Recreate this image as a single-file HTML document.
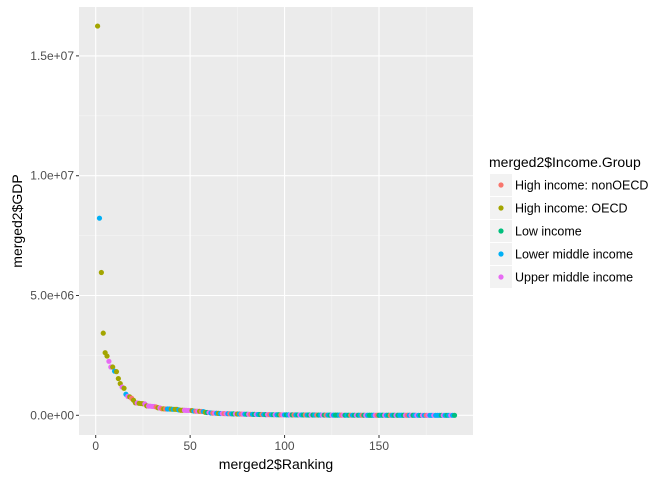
<!DOCTYPE html>
<html><head><meta charset="utf-8"><style>
body{margin:0;background:#fff;}
svg text{font-family:"Liberation Sans",sans-serif;}
</style></head><body>
<svg id="c" width="672" height="480" xmlns="http://www.w3.org/2000/svg"></svg>
<script>
const ranking = [];
const gdp = [16244600,8227103,5959718,3428131,2612878,2471784,2252664,2014775,2014670,1841710,1821424,1532408,1322965,1178126,1129598,878043,789257,770555,711050,631173,523806,514060,499667,489795,483262,475502,394708,384313,381286,369606,365966,348595,314887,305033,274701,269869,263259,262832,262597,258217,250182,249099,247546,225143,212274,210771,210280,205789,203790,203521,196446,176309,171476,169396,167347,160913,155820,124600,116355,114147,95982,
91149,87268,84040,80000,76000,73000,71000,68000,66000,64000,61000,59000,57000,55000,53000,51000,49000,47000,45000,44000,42000,40000,38000,36000,35000,33000,32000,30000,29000,28000,27000,26000,25000,24000,23000,22000,21000,20000,19500,19000,18500,18000,17500,17000,16500,16000,15500,15000,14500,14000,13500,13000,12500,12000,11500,11000,10500,10000,9600,9200,8800,8400,8000,7600,7200,6900,6600,6300,6000,5700,5400,5100,4900,4700,4500,4300,4100,3900,3700,3500,3300,3100,2900,2700,2500,2300,2200,2100,2000,1900,1800,1700,1600,1500,1400,1300,1200,1100,1000,950,900,850,800,750,700,650,600,550,500,460,420,380,340,300,270,240,210,180,150,120,100,80,60,40,30,25,20,15,10];
const group = [1,3,1,1,1,1,4,4,1,3,1,1,1,4,1,3,4,1,0,1,1,4,1,1,1,4,1,4,4,4,4,0,1,4,0,1,0,3,3,1,3,1,1,3,1,1,4,4,4,4,1,3,0,4,1,0,3,1,2,4,3,
0,4,3,1,3,4,0,4,3,0,3,2,4,1,3,0,4,3,2,4,0,3,2,4,3,2,0,3,2,4,0,3,2,4,3,2,0,4,3,2,3,4,2,0,3,2,4,3,2,0,3,2,4,2,3,0,2,3,4,2,0,3,2,4,3,2,2,3,0,4,2,3,2,0,3,2,4,2,3,0,2,4,3,2,2,3,4,0,2,3,2,4,3,2,0,3,2,4,2,3,3,2,4,0,3,4,2,3,4,3,2,4,3,0,4,3,3,4,3,3,3,2,4,3,2,3,4,3,2,3];
const N = Math.min(gdp.length, group.length);
for (let i = 0; i < N; i++) ranking.push(i + 1);
const groupNames = ["High income: nonOECD","High income: OECD","Low income","Lower middle income","Upper middle income"];
const groupColors = ["#F8766D","#A3A500","#00BF7D","#00B0F6","#E76BF3"];
const xTicks = [0,50,100,150];
const yTicks = [0,5e6,1e7,1.5e7];
const yTickLabels = ["0.0e+00","5.0e+06","1.0e+07","1.5e+07"];

const NS = "http://www.w3.org/2000/svg";
const svg = document.getElementById('c');
const P = {l:79, t:7, r:473, b:435};
const xs = v => 95.7 + (v - 0) * (379 - 95.7) / 150;
const ys = v => 415.3 - v * (415.3 - 295.5) / 5e6;
function mk(tag, attrs, parent) {
  const e = document.createElementNS(NS, tag);
  for (const k in attrs) e.setAttribute(k, attrs[k]);
  (parent || svg).appendChild(e);
  return e;
}
const bg = mk('rect', {x:P.l, y:P.t, width:P.r-P.l, height:P.b-P.t, fill:'#EBEBEB'});


for (let i = 0; i < xTicks.length; i++) {
  const x = xs(xTicks[i] + 25);
  if (x < P.r) { const g = mk('line', {x1:x, x2:x, y1:P.t, y2:P.b, stroke:'#F5F5F5', 'stroke-width':0.6});   }
}
for (let i = 0; i < yTicks.length; i++) {
  const y = ys(yTicks[i] + 2.5e6);
  if (y > P.t) { const g = mk('line', {x1:P.l, x2:P.r, y1:y, y2:y, stroke:'#F5F5F5', 'stroke-width':0.6});   }
}
xTicks.forEach(v => {
  const x = xs(v);
  const g = mk('line', {x1:x, x2:x, y1:P.t, y2:P.b, stroke:'#fff', 'stroke-width':1.1});
  
  
  mk('line', {x1:x, x2:x, y1:P.b, y2:P.b+3, stroke:'#333', 'stroke-width':1});
  const t = mk('text', {x:x, y:P.b+15, 'text-anchor':'middle', 'font-size':12, fill:'#4D4D4D'});
  t.textContent = v;
  
  
});
yTicks.forEach((v, i) => {
  const y = ys(v);
  const g = mk('line', {x1:P.l, x2:P.r, y1:y, y2:y, stroke:'#fff', 'stroke-width':1.1});
  
  
  mk('line', {x1:P.l-3, x2:P.l, y1:y, y2:y, stroke:'#333', 'stroke-width':1});
  const t = mk('text', {x:P.l-5, y:y+4, 'text-anchor':'end', 'font-size':12, fill:'#4D4D4D'});
  t.textContent = yTickLabels[i];
  
  
});
for (let i = 0; i < N; i++) {
  const c = mk('circle', {cx:xs(ranking[i]), cy:ys(gdp[i]), r:2.6, fill:groupColors[group[i]]});
  
  
}
const xt = mk('text', {x:(P.l+P.r)/2, y:469, 'text-anchor':'middle', 'font-size':14, fill:'#000'});
xt.textContent = 'merged2$Ranking';


const yt = mk('text', {x:0, y:0, transform:'translate(22,221) rotate(-90)', 'text-anchor':'middle', 'font-size':14, fill:'#000'});
yt.textContent = 'merged2$GDP';


const lt = mk('text', {x:489, y:167, 'font-size':14, fill:'#000'});
lt.textContent = 'merged2$Income.Group';


groupNames.forEach((n, i) => {
  const cy = 185 + i * 23;
  const g = mk('g', {});
  
  
  mk('rect', {x:490, y:cy-11, width:22, height:22, fill:'#F2F2F2'}, g);
  mk('circle', {cx:501, cy:cy, r:2.6, fill:groupColors[i]}, g);
  const t = mk('text', {x:515, y:cy+4.5, 'font-size':12.5, fill:'#000'}, g);
  t.textContent = n;
});
</script>
</body></html>
